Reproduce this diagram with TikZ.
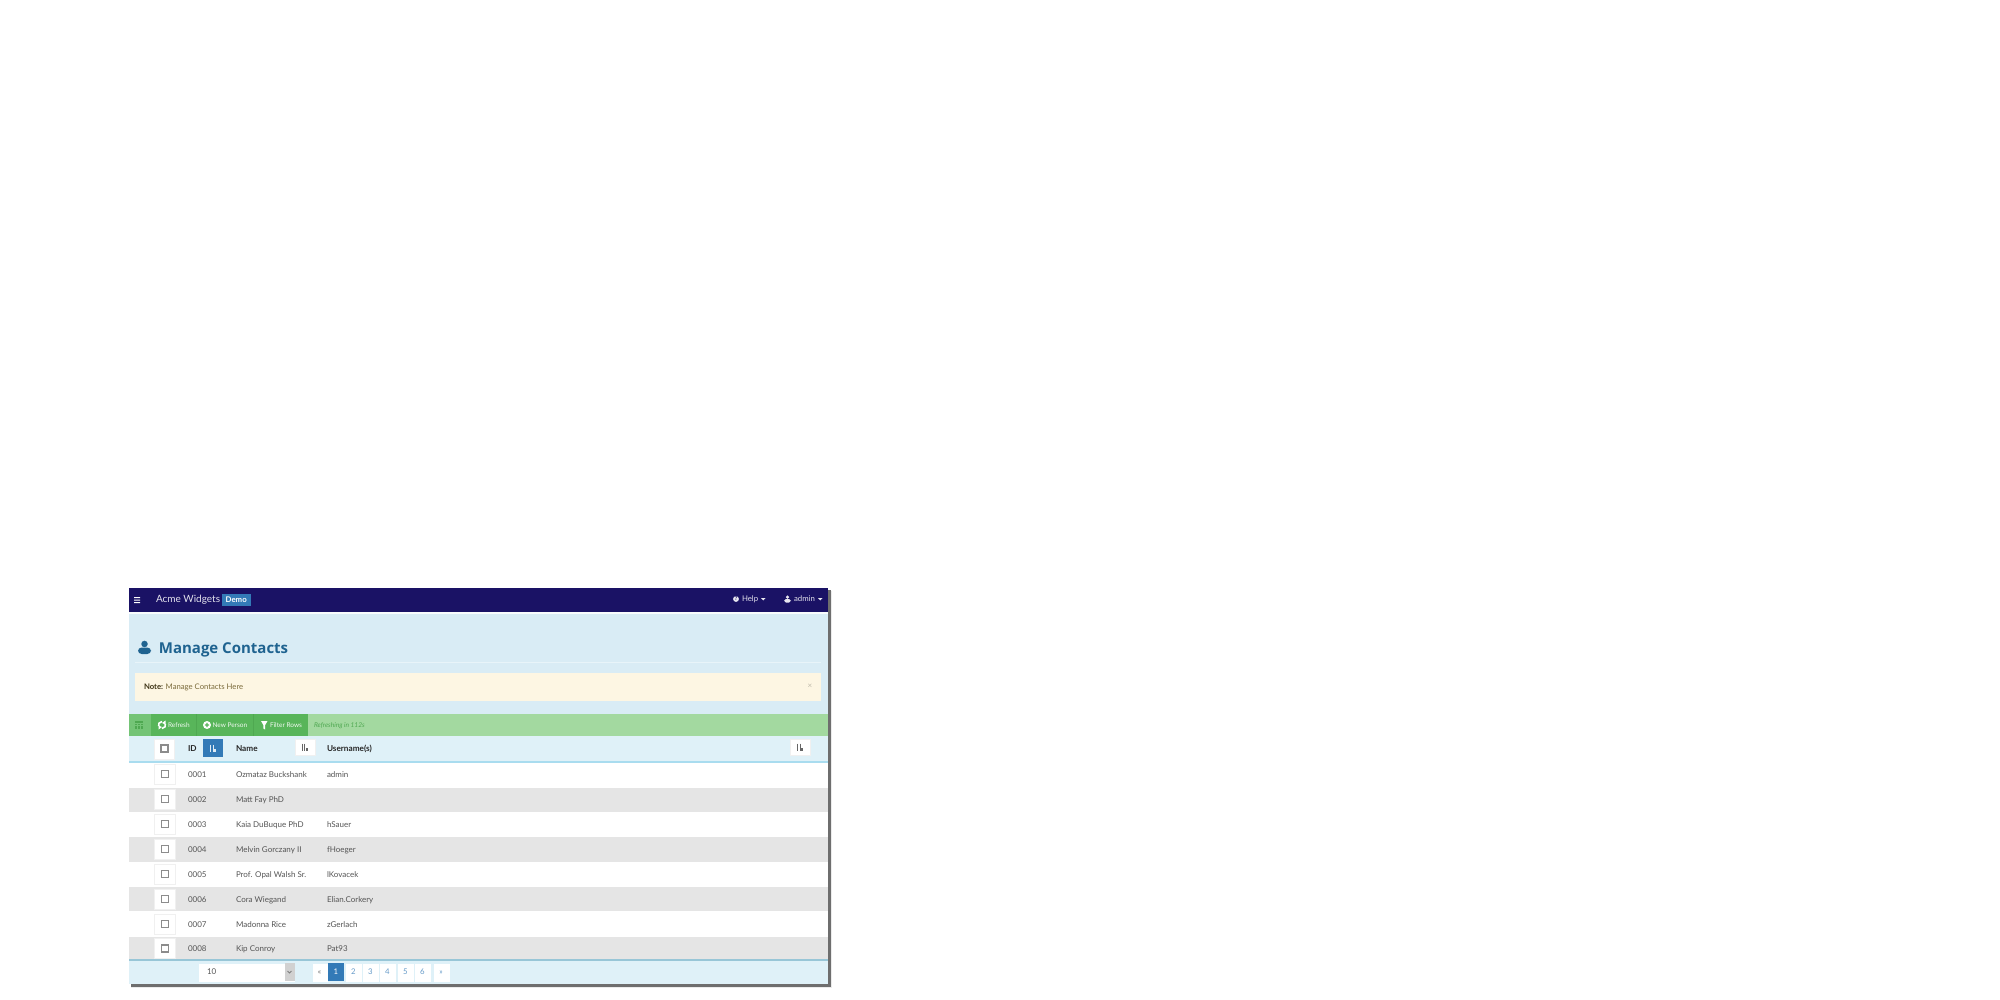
\documentclass[tikz,border=0pt]{standalone}
\usepackage{fontspec}
\setmainfont{Lato}
\newfontfamily\headfont{Open Sans}
\definecolor{navc}{HTML}{1A1265}
\definecolor{bodyc}{HTML}{D9ECF5}
\definecolor{notec}{HTML}{FDF6E3}
\definecolor{greenbar}{HTML}{A3D9A0}
\definecolor{greenbtn}{HTML}{58B55A}
\definecolor{greenleft}{HTML}{74C476}
\definecolor{greendark}{HTML}{4FA851}
\definecolor{headc}{HTML}{DFF1F8}
\definecolor{linec}{HTML}{A9DCEF}
\definecolor{greyrow}{HTML}{E5E5E5}
\definecolor{bluebtn}{HTML}{337AB7}
\definecolor{titlec}{HTML}{1F6390}
\definecolor{txt}{HTML}{555555}
\definecolor{shadowc}{HTML}{6E6E6E}
\definecolor{notetxt}{HTML}{7A6A3A}
\definecolor{notebold}{HTML}{3E3416}
\tikzset{
  small/.style={inner sep=0pt,outer sep=0pt,text height=3.4pt,text depth=0.8pt},
  txtnode/.style={small,anchor=west,text=txt,font=\fontsize{4}{5}\selectfont},
  headnode/.style={txtnode,text=black!85,font=\fontsize{4.1}{5}\selectfont\bfseries},
  btntext/.style={small,anchor=west,text=white!92!greenbtn,font=\fontsize{3.25}{4}\selectfont},
  navtext/.style={small,anchor=west,text=white!88!navc,font=\fontsize{3.9}{5}\selectfont},
  whitebtn/.style={fill=white,draw=black!6,line width=0.5pt},
  checkmark/.style={draw=black!45,line width=0.55pt,fill=white},
  pagetext/.style={small,anchor=center,text=bluebtn!75,font=\fontsize{3.9}{5}\selectfont},
}
\newcommand{\personicon}[4]{% x y scale colour
  \fill[#4] (#1,#2-#3*0.27) circle[radius=#3*0.25];
  \fill[#4,rounded corners=#3*0.14] (#1-#3*0.5,#2+#3*0.5) rectangle (#1+#3*0.5,#2+#3*0.0);
}
\newcommand{\sorticon}[3]{% x y colour
  \draw[#3,line width=0.55pt] (#1-2.2,#2-3.5) -- (#1-2.2,#2+3.5);
  \draw[#3,line width=0.55pt] (#1+0.2,#2-3.5) -- (#1+0.2,#2+3.5);
  \fill[#3] (#1+1.2,#2+0.5) rectangle (#1+3,#2+3.5);
}
\begin{document}
\begin{tikzpicture}[x=0.5pt,y=-0.5pt]
\useasboundingbox (0,0) rectangle (2000,1000);
\fill[white] (0,0) rectangle (2000,1000);
% shadow and panels
\fill[black!8] (131,591) rectangle (832,988);
\fill[shadowc] (131,590) rectangle (830.5,986.5);
\fill[bodyc] (129,588) rectangle (828,714);
\fill[navc] (129,588) rectangle (828,612);
\fill[white!85!bodyc] (129,612) rectangle (828,613.5);
\fill[white!40!bodyc] (135,661.5) rectangle (821,662.5);
\fill[notec] (135,673) rectangle (821,700.5);
% toolbar
\fill[greenbar] (129,714) rectangle (828,736);
\fill[greenleft] (129,714) rectangle (151,736);
\fill[greenbtn] (151,714) rectangle (308,736);
\draw[greendark,line width=0.4pt] (196,714) -- (196,736) (253,714) -- (253,736);
% table header
\fill[headc] (129,736) rectangle (828,761);
\fill[linec] (129,761) rectangle (828,763);
% rows
\fill[white] (129,763) rectangle (828,787.5);
\fill[greyrow] (129,787.5) rectangle (828,812);
\fill[white] (129,812) rectangle (828,837);
\fill[greyrow] (129,837) rectangle (828,862);
\fill[white] (129,862) rectangle (828,887);
\fill[greyrow] (129,887) rectangle (828,911);
\fill[white] (129,911) rectangle (828,937);
\fill[greyrow] (129,937) rectangle (828,959);
% footer
\fill[linec!90!black] (129,959) rectangle (828,961);
\fill[headc] (129,961) rectangle (828,984);
% nav content
\fill[white] (134,597) rectangle (140,598) (134,599.5) rectangle (140,600.5) (134,602) rectangle (140,603);
\node[navtext,text height=4.6pt,text depth=1pt,font=\fontsize{5}{6}\selectfont] (brand) at (156,599) {Acme Widgets};
\fill[bluebtn] (221.5,594) rectangle (251,605.5);
\node[small,text=white,font=\fontsize{3.9}{5}\selectfont\bfseries] (demo) at (236.2,599.8) {Demo};
\fill[white!90!navc] (736,599) circle[radius=2.9];
\node[inner sep=0pt,text=navc,font=\fontsize{2.7}{3}\selectfont\bfseries] (helpq) at (736,599) {?};
\node[navtext] (help) at (742,599) {Help};
\fill[white!90!navc] (761,598) -- (765.5,598) -- (763.25,600.5) -- cycle;
\personicon{787.5}{599}{7}{white!90!navc}
\node[navtext] (admin) at (794,599) {admin};
\fill[white!90!navc] (818,598) -- (822.5,598) -- (820.25,600.5) -- cycle;
% title
\personicon{144.5}{647.5}{13}{titlec}
\node[inner sep=0pt,anchor=west,text height=7.7pt,text depth=2.4pt,text=titlec,font=\headfont\fontsize{7.5}{10}\selectfont\bfseries] (title) at (158.5,648) {Manage Contacts};
% note
\node[small,anchor=west,text=notetxt,font=\fontsize{3.85}{5}\selectfont] (note) at (144,686.5) {\textcolor{notebold}{\textbf{Note:}} Manage Contacts Here};
\node[inner sep=0pt,text=black!25!notec,font=\fontsize{4}{5}\selectfont] (close) at (810,686) {×};
% toolbar content
\fill[greendark] (135,721) rectangle (143,729);
\draw[greenleft,line width=0.3pt] (135,723) -- (143,723) (135,725.5) -- (143,725.5) (137.7,723) -- (137.7,729) (140.3,723) -- (140.3,729);
\draw[white,line width=0.8pt] (162,721.5) arc[start angle=-90,end angle=-200,radius=3.5];
\draw[white,line width=0.8pt] (162,728.5) arc[start angle=90,end angle=-20,radius=3.5];
\fill[white] (165.5,720.5) -- (165.5,724.5) -- (162,723) -- cycle;
\fill[white] (158.5,729.5) -- (158.5,725.5) -- (162,727) -- cycle;
\node[btntext] (refresh) at (168,725) {Refresh};
\fill[white] (207,725) circle[radius=4];
\fill[greenbtn] (204.8,724.4) rectangle (209.2,725.6) (206.4,722.8) rectangle (207.6,727.2);
\node[btntext] (newperson) at (212.5,725) {New Person};
\fill[white] (261,721) -- (267.5,721) -- (265.2,725) -- (265.2,729.5) -- (263.3,728.5) -- (263.3,725) -- cycle;
\node[btntext] (filter) at (270,725) {Filter Rows};
\node[btntext,text=greendark,font=\fontsize{3.3}{5}\selectfont\itshape] (refreshing) at (314,725) {Refreshing in 112s};
% header content
\node[whitebtn,minimum size=0pt,inner sep=0pt,anchor=north west,minimum width=10.2pt,minimum height=10pt] (hcheck) at (154,739) {};
\draw[checkmark] (161,745) rectangle (168,752);
\node[headnode] (hid) at (188,748.5) {ID};
\fill[bluebtn] (203,739) rectangle (223,757);
\sorticon{213}{748}{white!85!bluebtn}
\node[headnode] (hname) at (236,748.5) {Name};
\node[whitebtn,inner sep=0pt,anchor=north west,minimum width=10pt,minimum height=8pt] (hnamesort) at (294.5,739) {};
\sorticon{304.5}{747}{black!60}
\node[headnode] (huser) at (327,748.5) {Username(s)};
\node[whitebtn,inner sep=0pt,anchor=north west,minimum width=10pt,minimum height=8pt] (husersort) at (790,739) {};
\sorticon{800}{747}{black!60}
% row content
\foreach \yy/\idv/\nm/\us [count=\i] in {
 774.5/0001/{Ozmataz Buckshank}/admin,
 799.5/0002/{Matt Fay PhD}/{},
 824.5/0003/{Kaia DuBuque PhD}/{hSauer},
 849.5/0004/{Melvin Gorczany II}/{fHoeger},
 874.5/0005/{Prof. Opal Walsh Sr.}/{lKovacek},
 899.5/0006/{Cora Wiegand}/{Elian.Corkery},
 924.5/0007/{Madonna Rice}/{zGerlach},
 949/0008/{Kip Conroy}/{Pat93}}{
  \node[whitebtn,inner sep=0pt,minimum width=10.2pt,minimum height=10pt] (chk\i) at (165,\yy-0.5) {};
  \draw[checkmark] (161.5,\yy-4) rectangle (168.5,\yy+3);
  \node[txtnode] (id\i) at (188,\yy) {\idv};
  \begin{scope}
    \clip (236,\yy-10) rectangle (308,\yy+10);
    \node[txtnode] (name\i) at (236,\yy) {\nm};
  \end{scope}
  \node[txtnode] (user\i) at (327,\yy) {\us};
}
% footer content
\node[whitebtn,draw=none,inner sep=0pt,anchor=north west,minimum width=48pt,minimum height=9pt] (sel) at (198.5,963) {};
\node[txtnode] (selv) at (207,972) {10};
\fill[black!18] (285,963) rectangle (294.5,981);
\draw[black!50,line width=0.4pt] (287.5,971) -- (289.5,973) -- (291.5,971);
\node[whitebtn,draw=none,inner sep=0pt,anchor=north west,minimum width=7.5pt,minimum height=9pt] (pprev) at (312,963) {};
\node[pagetext,text=black!55] (tprev) at (319.5,972) {«};
\node[fill=bluebtn,inner sep=0pt,anchor=north west,minimum width=8.2pt,minimum height=9pt] (p1) at (327.5,963) {};
\node[pagetext,text=white] (t1) at (336,972) {1};
\foreach \xa/\n in {345/2,362/3,379/4,397/5,414/6}{
  \node[whitebtn,draw=none,inner sep=0pt,anchor=north west,minimum width=8pt,minimum height=9pt] (p\n) at (\xa,963) {};
  \node[pagetext] (t\n) at (\xa+8.5,972) {\n};
}
\node[whitebtn,draw=none,inner sep=0pt,anchor=north west,minimum width=8pt,minimum height=9pt] (pnext) at (433,963) {};
\node[pagetext] (tnext) at (441,972) {»};
\end{tikzpicture}
\end{document}
